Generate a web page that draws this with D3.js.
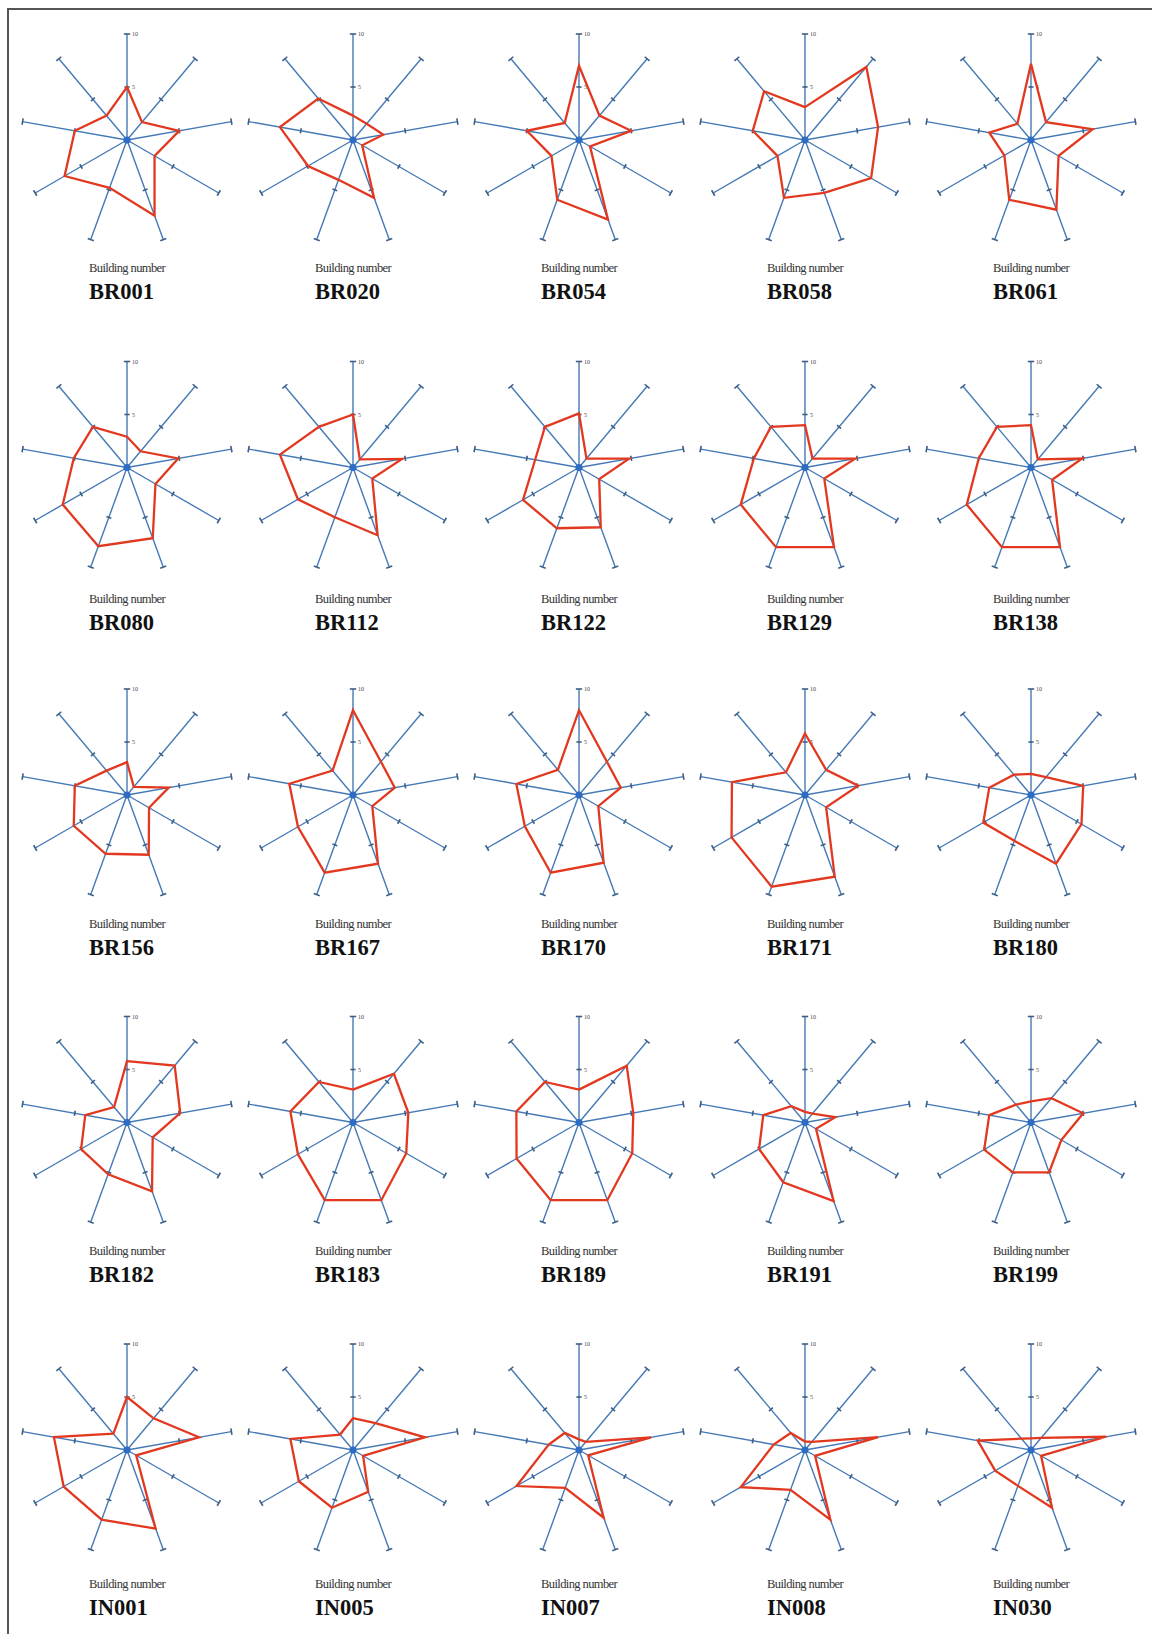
<!DOCTYPE html>
<html>
<head>
<meta charset="utf-8">
<script src="https://cdn.jsdelivr.net/npm/d3@7/dist/d3.min.js"></script>
<style>
  html, body { margin: 0; padding: 0; background: #fff; }
  svg { display: block; }
</style>
</head>
<body>
<svg id="chart" width="1152" height="1634"></svg>
<script>
// Building identifiers, laid out row by row (5 per row)
const buildings = [
  "BR001", "BR020", "BR054", "BR058", "BR061",
  "BR080", "BR112", "BR122", "BR129", "BR138",
  "BR156", "BR167", "BR170", "BR171", "BR180",
  "BR182", "BR183", "BR189", "BR191", "BR199",
  "IN001", "IN005", "IN007", "IN008", "IN030"
];

// Nine indicator scores per building, clockwise from the top axis (0–10)
const BR001 = [5.0, 2.2, 5.0, 3.0, 7.6, 4.8, 6.8, 5.0, 3.0];
const BR020 = [2.3, 2.0, 2.9, 1.0, 5.8, 4.0, 4.9, 7.0, 5.1];
const BR054 = [7.0, 3.0, 5.0, 1.2, 8.0, 6.0, 3.0, 5.0, 2.1];
const BR058 = [3.1, 9.0, 7.0, 7.2, 5.3, 5.8, 3.0, 5.0, 6.0];
const BR061 = [7.2, 2.2, 5.9, 3.0, 7.0, 6.0, 2.9, 4.0, 2.0];
const BR080 = [2.9, 2.0, 4.9, 3.1, 7.1, 7.9, 7.0, 5.1, 5.0];
const BR112 = [5.0, 1.0, 4.7, 2.1, 6.8, 5.0, 6.0, 7.0, 5.0];
const BR122 = [5.1, 1.1, 4.8, 2.2, 6.0, 6.1, 6.1, 4.2, 5.0];
const BR129 = [4.0, 1.1, 4.8, 2.1, 8.0, 8.0, 7.0, 4.9, 5.0];
const BR138 = [4.0, 1.0, 4.9, 2.3, 8.0, 8.0, 7.0, 5.0, 5.0];
const BR156 = [3.1, 1.0, 4.0, 2.4, 6.0, 5.9, 5.8, 5.0, 3.0];
const BR167 = [8.0, 4.1, 4.0, 2.1, 6.9, 7.8, 6.0, 6.1, 3.0];
const BR170 = [8.0, 4.1, 4.0, 2.1, 6.8, 7.8, 5.9, 6.0, 3.1];
const BR171 = [5.8, 3.1, 5.1, 2.3, 8.2, 9.2, 8.0, 7.0, 2.8];
const BR180 = [2.0, 2.2, 5.0, 5.5, 6.9, 4.6, 5.2, 4.0, 2.5];
const BR182 = [5.8, 7.0, 5.1, 2.8, 6.9, 5.2, 5.0, 4.0, 1.9];
const BR183 = [3.1, 6.0, 5.3, 5.8, 7.8, 7.8, 6.0, 6.0, 5.0];
const BR189 = [3.1, 7.0, 5.2, 5.8, 7.8, 7.8, 6.8, 6.0, 5.0];
const BR191 = [1.0, 1.1, 2.9, 1.2, 7.9, 6.0, 5.0, 4.0, 2.0];
const BR199 = [2.0, 3.0, 5.0, 3.3, 5.0, 5.0, 5.1, 4.0, 2.2];
const IN001 = [5.0, 3.9, 6.9, 1.0, 7.9, 7.0, 6.9, 7.0, 2.0];
const IN005 = [3.0, 3.3, 6.9, 1.1, 4.2, 5.8, 5.9, 6.0, 1.9];
const IN007 = [1.0, 1.0, 6.9, 1.0, 6.8, 3.8, 6.8, 2.9, 2.1];
const IN008 = [0.8, 1.0, 7.0, 1.1, 7.0, 4.0, 7.0, 3.0, 2.1];
const IN030 = [1.1, 1.5, 7.2, 1.1, 5.8, 3.6, 3.9, 5.1, 1.4];

const series = [
  BR001, BR020, BR054, BR058, BR061,
  BR080, BR112, BR122, BR129, BR138,
  BR156, BR167, BR170, BR171, BR180,
  BR182, BR183, BR189, BR191, BR199,
  IN001, IN005, IN007, IN008, IN030
];

// Radial scale ticks and their labels (shown on the top axis)
const tickValues = [5, 10];
const tickLabels = ["5", "10"];
const axisCount = 9;
const maxValue = 10;

// ---- layout ----
const svg = d3.select("#chart");
const R = 106;
const col = d3.scalePoint().domain(d3.range(5)).range([127, 1031]);
const row = d3.scalePoint().domain(d3.range(5)).range([140, 1450]);
const labelDy = [132, 135, 133, 132, 138];

const r = d3.scaleLinear().domain([0, maxValue]).range([0, R]);
const angle = d3.scaleLinear().domain([0, axisCount]).range([0, 2 * Math.PI]);

const axisColor = "#4579b6";
const lineColor = "#e2381f";

const radarLine = d3.lineRadial()
  .angle((d, i) => angle(i))
  .radius(d => r(d))
  .curve(d3.curveLinearClosed);

// page frame (top and left rules)
svg.append("line").attr("x1", 8).attr("x2", 1152).attr("y1", 9).attr("y2", 9)
  .attr("stroke", "#555").attr("stroke-width", 2);
svg.append("line").attr("x1", 8).attr("x2", 8).attr("y1", 8).attr("y2", 1634)
  .attr("stroke", "#555").attr("stroke-width", 2);

buildings.forEach((name, k) => {
  const ci = k % 5, ri = Math.floor(k / 5);
  const cx = col(ci), cy = row(ri);
  const g = svg.append("g").attr("transform", `translate(${cx},${cy})`);

  const axes = d3.range(axisCount);

  // spokes
  g.selectAll("line.spoke").data(axes).join("line")
    .attr("class", "spoke")
    .attr("x1", 0).attr("y1", 0)
    .attr("x2", i => d3.pointRadial(angle(i), r(maxValue))[0])
    .attr("y2", i => d3.pointRadial(angle(i), r(maxValue))[1])
    .attr("stroke", axisColor)
    .attr("stroke-width", 1.4);

  // tick marks across each spoke
  const ticks = [];
  axes.forEach(i => tickValues.forEach(v => ticks.push({ i, v })));
  g.selectAll("line.tick").data(ticks).join("line")
    .attr("class", "tick")
    .each(function (d) {
      const a = angle(d.i);
      const [px, py] = d3.pointRadial(a, r(d.v));
      const nx = Math.cos(a), ny = Math.sin(a);
      const h = d.v === maxValue ? 3.2 : 2.6;
      d3.select(this)
        .attr("x1", px - nx * h).attr("y1", py - ny * h)
        .attr("x2", px + nx * h).attr("y2", py + ny * h);
    })
    .attr("stroke", "#3d5f86")
    .attr("stroke-width", 1.6);

  // tick labels on the top spoke
  g.selectAll("text.tl").data(tickValues).join("text")
    .attr("class", "tl")
    .attr("x", 5)
    .attr("y", v => -r(v) + 2)
    .attr("font-family", "Liberation Serif, serif")
    .attr("font-size", 6)
    .attr("fill", "#444")
    .text((v, i) => tickLabels[i]);

  // score polygon
  g.append("path")
    .datum(series[k])
    .attr("d", radarLine)
    .attr("fill", "none")
    .attr("stroke", lineColor)
    .attr("stroke-width", 2.3)
    .attr("stroke-linejoin", "miter");

  // centre hub
  g.append("circle").attr("r", 3.6).attr("fill", "#2c6cc4");

  // caption
  const dy = labelDy[ri];
  g.append("text")
    .attr("x", -38).attr("y", dy)
    .attr("font-family", "Liberation Serif, serif")
    .attr("font-size", 12.5)
    .attr("letter-spacing", -0.6)
    .attr("fill", "#333")
    .text("Building number");
  g.append("text")
    .attr("x", -38).attr("y", dy + 27)
    .attr("font-family", "Liberation Serif, serif")
    .attr("font-weight", "bold")
    .attr("font-size", 22.5)
    .attr("fill", "#111")
    .text(name);
});
</script>
</body>
</html>
